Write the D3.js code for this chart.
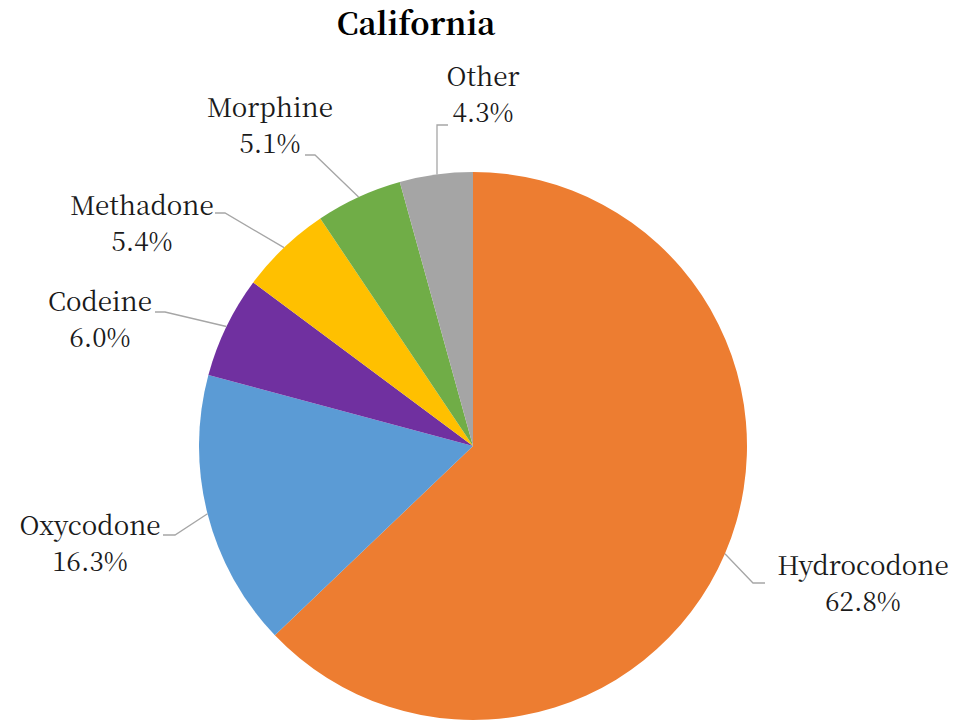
<!DOCTYPE html>
<html>
<head>
<meta charset="utf-8">
<script src="https://cdn.jsdelivr.net/npm/d3@7"></script>
<style>
  body { margin: 0; background: #fff; }
</style>
</head>
<body>
<div id="chart"></div>
<script>
// data
var drugs = ["Hydrocodone", "Oxycodone", "Codeine", "Methadone", "Morphine", "Other"];
var shares = [62.8, 16.3, 6.0, 5.4, 5.1, 4.3];
var colors = ["#ED7D31", "#5B9BD5", "#7030A0", "#FFC000", "#70AD47", "#A5A5A5"];

// label layout: text centre + first baseline, leader elbow and end (vertical leaders use "v")
var labelLayout = [
  { x: 863, y: 575, elbow: [753, 583], end: [765, 583] },
  { x: 90, y: 535, elbow: [175, 535], end: [163, 535] },
  { x: 100, y: 311, elbow: [165, 312], end: [155, 312] },
  { x: 142, y: 215, elbow: [225, 213], end: [215, 213] },
  { x: 270, y: 117, elbow: [315, 155], end: [305, 155] },
  { x: 483, y: 86, elbow: [437, 125], end: [448, 125], v: true }
];

var width = 975,
  height = 721,
  cx = 473,
  cy = 446,
  radius = 274,
  serif = "'Noto Serif CJK SC', 'Liberation Serif', serif";

var svg = d3.select("#chart").append("svg")
  .attr("width", width)
  .attr("height", height);

svg.append("text")
  .attr("x", 416)
  .attr("y", 35)
  .attr("text-anchor", "middle")
  .attr("font-family", serif)
  .attr("font-size", 31)
  .attr("font-weight", "bold")
  .text("California");

var data = drugs.map(function(d, i) {
  return { name: d, value: shares[i], color: colors[i], layout: labelLayout[i] };
});

var pie = d3.pie().sort(null).value(function(d) { return d.value; });
var arc = d3.arc().innerRadius(0).outerRadius(radius);
var arcs = pie(data);
// stretch last slice to close the circle (shares sum to 99.9)
arcs[arcs.length - 1].endAngle = 2 * Math.PI;

var g = svg.append("g").attr("transform", "translate(" + cx + "," + cy + ")");

g.selectAll("path.slice")
  .data(arcs)
  .join("path")
  .attr("class", "slice")
  .attr("d", arc)
  .attr("fill", function(d) { return d.data.color; });

// leader lines, starting on the rim at each slice's mid angle
svg.selectAll("polyline.leader")
  .data(arcs)
  .join("polyline")
  .attr("class", "leader")
  .attr("fill", "none")
  .attr("stroke", "#A6A6A6")
  .attr("stroke-width", 1.3)
  .attr("points", function(d) {
    var a = (d.startAngle + d.endAngle) / 2,
      p = [cx + radius * Math.sin(a), cy - radius * Math.cos(a)],
      L = d.data.layout;
    if (L.v) p[0] = L.elbow[0];
    return [p, L.elbow, L.end].map(function(q) { return q.join(","); }).join(" ");
  });

var labels = svg.selectAll("text.label")
  .data(arcs)
  .join("text")
  .attr("class", "label")
  .attr("text-anchor", "middle")
  .attr("font-family", serif)
  .attr("font-size", 26)
  .attr("fill", "#1a1a1a");

labels.append("tspan")
  .attr("x", function(d) { return d.data.layout.x; })
  .attr("y", function(d) { return d.data.layout.y; })
  .text(function(d) { return d.data.name; });

labels.append("tspan")
  .attr("x", function(d) { return d.data.layout.x; })
  .attr("y", function(d) { return d.data.layout.y + 36; })
  .text(function(d) { return d3.format(".1f")(d.data.value) + "%"; });
</script>
</body>
</html>
